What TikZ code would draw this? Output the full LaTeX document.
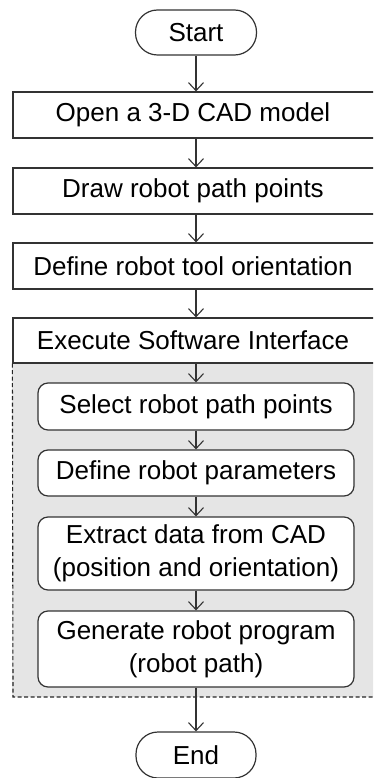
\documentclass[tikz,border=0pt]{standalone}
\usepackage{fontspec}
\setmainfont{Liberation Sans}
\usetikzlibrary{positioning,arrows.meta}

\tikzset{
  flow/.style={draw=black!80,line width=1.2pt,fill=white,align=center,inner sep=0pt,
    font=\fontsize{26}{33}\selectfont},
  term/.style={flow,minimum width=121pt,minimum height=45pt,rounded corners=22pt},
  stepbox/.style={flow,minimum width=364pt,minimum height=46pt},
  subbox/.style={flow,minimum width=316pt,rounded corners=10pt},
  link/.style={draw=black!80,line width=1.1pt,-{Straight Barb[length=8pt,width=15pt]}}
}

\begin{document}
\begin{tikzpicture}[x=1pt,y=-1pt]

\useasboundingbox[fill=white] (0,0) rectangle (373,778);
\clip (0,0) rectangle (373,778);

% main steps
\node [term]    at (196,32.5)  (start)  {Start};
\node [stepbox] at (195,115)   (cad)    {\hspace*{-4pt}Open a 3-D CAD model};
\node [stepbox] at (195,191)   (pts)    {\hspace*{-4pt}Draw robot path points};
\node [stepbox] at (195,266)   (orient) {\hspace*{-4pt}Define robot tool orientation};
\node [stepbox,minimum height=45pt] at (195,340.5) (iface) {\hspace*{-4pt}Execute Software Interface};

% software interface
\fill [black!10] (iface.south west) rectangle (380,697);
\draw [black!85,line width=1.1pt,dash pattern=on 4pt off 2.5pt]
  (iface.south west) -- (13,697) -- (380,697);

\node [subbox,minimum height=47pt] at (196,406.5) (sel) {Select robot path points};
\node [subbox,minimum height=46pt] at (196,473)   (par) {Define robot parameters};
\node [subbox,minimum height=73pt] at (196,553.5) (ext) {Extract data from CAD\\(position and orientation)};
\node [subbox,minimum height=76pt] at (196,649)   (gen) {Generate robot program\\(robot path)};

\node [term,minimum width=120pt,minimum height=46pt] at (196,755) (fin) {End};

\draw [link] (start) -- (start |- cad.north);
\draw [link] (start |- cad.south) -- (start |- pts.north);
\draw [link] (start |- pts.south) -- (start |- orient.north);
\draw [link] (start |- orient.south) -- (start |- iface.north);
\draw [link] (start |- iface.south) -- (sel);
\draw [link] (sel) -- (par);
\draw [link] (par) -- (ext);
\draw [link] (ext) -- (gen);
\draw [link] (gen) -- (fin);

\end{tikzpicture}
\end{document}
